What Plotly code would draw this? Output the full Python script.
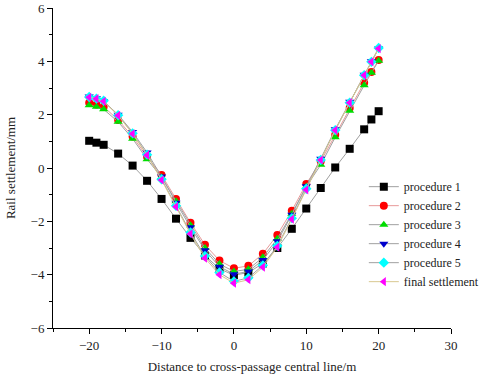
import plotly.graph_objects as go

distance = [-20, -19, -18, -16, -14, -12, -10, -8, -6, -4, -2, 0, 2, 4, 6, 8, 10, 12, 14, 16, 18, 19, 20]

procedure_1 = [1.02, 0.95, 0.87, 0.54, 0.09, -0.48, -1.16, -1.90, -2.62, -3.28, -3.78, -4.02, -3.92, -3.58, -3.00, -2.28, -1.52, -0.75, 0.02, 0.72, 1.45, 1.82, 2.13]
procedure_2 = [2.45, 2.38, 2.30, 1.80, 1.18, 0.42, -0.26, -1.16, -2.05, -2.88, -3.47, -3.76, -3.67, -3.22, -2.51, -1.60, -0.60, 0.25, 1.25, 2.25, 3.20, 3.60, 4.05]
procedure_3 = [2.35, 2.30, 2.20, 1.73, 1.10, 0.33, -0.35, -1.25, -2.15, -3.00, -3.60, -3.88, -3.80, -3.35, -2.65, -1.72, -0.70, 0.12, 1.15, 2.15, 3.10, 3.57, 4.02]
procedure_4 = [2.68, 2.62, 2.50, 2.00, 1.35, 0.58, -0.32, -1.30, -2.22, -3.08, -3.70, -3.98, -3.88, -3.45, -2.75, -1.75, -0.68, 0.35, 1.45, 2.48, 3.50, 4.00, 4.48]
procedure_5 = [2.66, 2.60, 2.52, 1.98, 1.30, 0.50, -0.42, -1.42, -2.42, -3.30, -3.92, -4.25, -4.12, -3.65, -2.92, -1.88, -0.78, 0.30, 1.42, 2.45, 3.48, 3.98, 4.50]
final_settlement = [2.65, 2.60, 2.50, 1.97, 1.28, 0.48, -0.45, -1.45, -2.47, -3.38, -4.00, -4.32, -4.19, -3.72, -2.97, -1.92, -0.82, 0.30, 1.42, 2.45, 3.48, 3.98, 4.48]

series = [
    ("procedure 1", procedure_1, "square", "#000000", "#a0a0a0"),
    ("procedure 2", procedure_2, "circle", "#ff0000", "#e89a9a"),
    ("procedure 3", procedure_3, "triangle-up", "#00dd00", "#a0a0a0"),
    ("procedure 4", procedure_4, "triangle-down", "#0000cc", "#a0a0a0"),
    ("procedure 5", procedure_5, "diamond", "#00ffff", "#a0a0a0"),
    ("final settlement", final_settlement, "triangle-left", "#ff00ff", "#d8c890"),
]

fig = go.Figure()
for name, vals, sym, mcol, lcol in series:
    fig.add_trace(go.Scatter(
        x=distance, y=vals, name=name, mode="lines+markers",
        line=dict(color=lcol, width=1),
        marker=dict(symbol=sym, color=mcol, size=8, line=dict(width=0)),
    ))

font_family = "Liberation Serif"
fig.update_layout(
    width=491, height=379,
    margin=dict(l=53, r=39, t=8, b=51),
    paper_bgcolor="white", plot_bgcolor="white",
    font=dict(family=font_family, size=13, color="#222"),
    showlegend=True,
    legend=dict(x=0.779, y=0.487, xanchor="left", yanchor="top",
                bgcolor="rgba(0,0,0,0)", font=dict(size=12, family=font_family),
                tracegroupgap=0, itemwidth=30),
    xaxis=dict(range=[-25, 30], tickvals=[-20, -10, 0, 10, 20, 30], automargin=False,
               showgrid=False, zeroline=False, showline=True, linecolor="black", linewidth=1,
               ticks="outside", ticklen=5, tickcolor="black",
               minor=dict(dtick=5, ticks="outside", ticklen=3, tickcolor="black"),
               title=dict(text="Distance to cross-passage central line/m", font=dict(size=13), standoff=10)),
    yaxis=dict(range=[-6, 6], tickvals=[-6, -4, -2, 0, 2, 4, 6], automargin=False,
               showgrid=False, zeroline=False, showline=True, linecolor="black", linewidth=1,
               ticks="outside", ticklen=5, tickcolor="black",
               minor=dict(dtick=1, ticks="outside", ticklen=3, tickcolor="black"),
               title=dict(text="Rail settlement/mm", font=dict(size=13), standoff=12)),
)

fig.write_html("out.html", config={"displayModeBar": False},
               post_script="document.body.style.margin='0px';")
